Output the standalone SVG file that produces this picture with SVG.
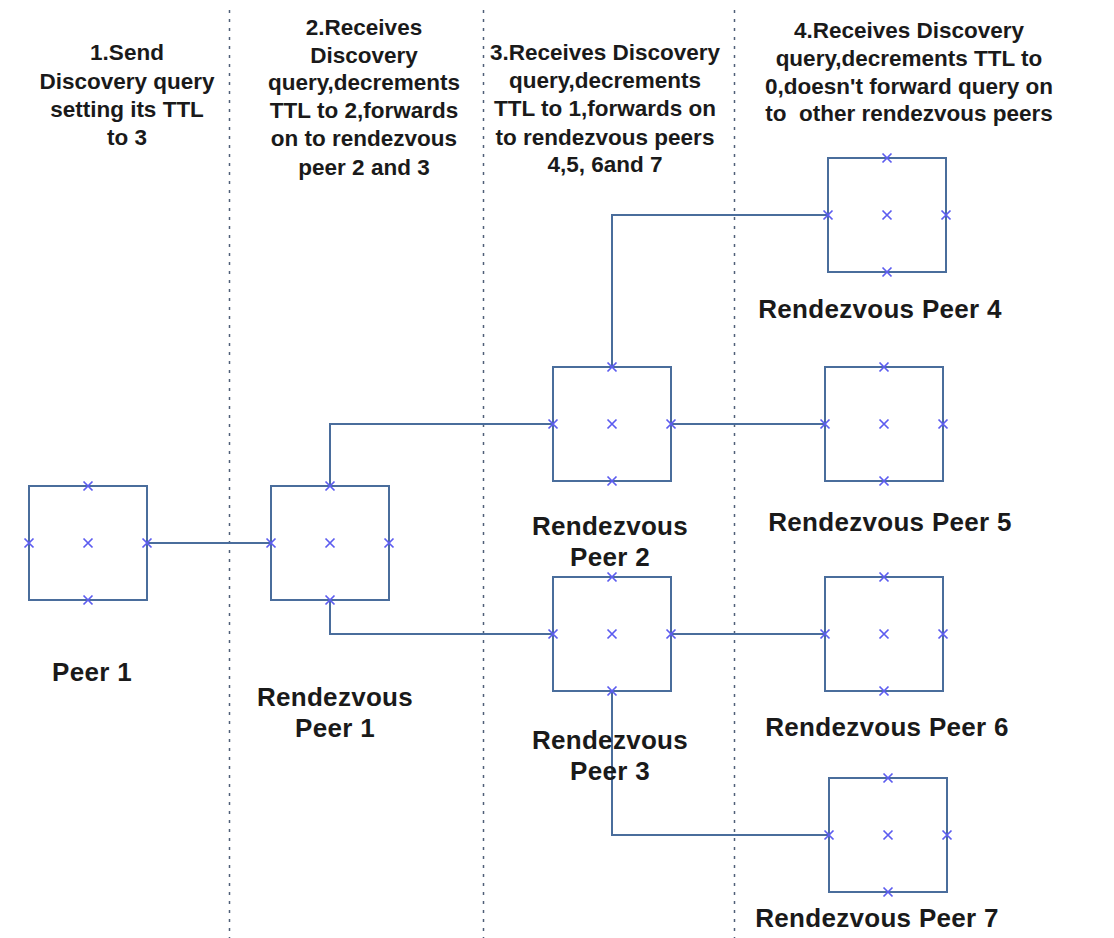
<svg xmlns="http://www.w3.org/2000/svg" width="1114" height="938" viewBox="0 0 1114 938">
  <style>
    .box { fill: none; stroke: #4a6d9c; stroke-width: 2; }
    .pin { stroke: #5c5cf0; stroke-width: 1.7; fill: none; }
    .wire { fill: none; stroke: #4a6d9c; stroke-width: 2; }
    .lane { stroke: #4f5f78; stroke-width: 1.5; stroke-dasharray: 3 6; }
    .head { font-family: "Liberation Sans", Arial, sans-serif; font-weight: bold; font-size: 22.5px; fill: #1a1a1a; text-anchor: middle; white-space: pre; }
    .label { font-family: "Liberation Sans", Arial, sans-serif; font-weight: bold; font-size: 26px; letter-spacing: 0.3px; fill: #1a1a1a; text-anchor: middle; }
  </style>
  <defs>
    <path id="x" class="pin" d="M-4.5,-4.5 L4.5,4.5 M-4.5,4.5 L4.5,-4.5"/>
    <!-- square node with connection points; origin at centre -->
    <g id="node">
      <rect class="box" x="-59" y="-57" width="118" height="114"/>
      <use href="#x" x="0" y="-57"/>
      <use href="#x" x="0" y="57"/>
      <use href="#x" x="-59" y="0"/>
      <use href="#x" x="59" y="0"/>
      <use href="#x" x="0" y="0"/>
    </g>
  </defs>
  <rect width="1114" height="938" fill="#ffffff"/>

  <!-- stage separators -->
  <g id="lanes">
    <line class="lane" x1="229.5" y1="10" x2="229.5" y2="938"/>
    <line class="lane" x1="483.5" y1="10" x2="483.5" y2="938"/>
    <line class="lane" x1="734.5" y1="10" x2="734.5" y2="938"/>
  </g>

  <!-- stage captions -->
  <g id="captions">
    <text class="head" x="127" y="60">1.Send</text>
    <text class="head" x="127" y="89">Discovery query</text>
    <text class="head" x="127" y="117">setting its TTL</text>
    <text class="head" x="127" y="145">to 3</text>

    <text class="head" x="364" y="35">2.Receives</text>
    <text class="head" x="364" y="63">Discovery</text>
    <text class="head" x="364" y="90">query,decrements</text>
    <text class="head" x="364" y="118">TTL to 2,forwards</text>
    <text class="head" x="364" y="146">on to rendezvous</text>
    <text class="head" x="364" y="175">peer 2 and 3</text>

    <text class="head" x="605" y="60">3.Receives Discovery</text>
    <text class="head" x="605" y="88">query,decrements</text>
    <text class="head" x="605" y="116">TTL to 1,forwards on</text>
    <text class="head" x="605" y="145">to rendezvous peers</text>
    <text class="head" x="605" y="172">4,5, 6and 7</text>

    <text class="head" x="909" y="38">4.Receives Discovery</text>
    <text class="head" x="909" y="66">query,decrements TTL to</text>
    <text class="head" x="909" y="94">0,doesn't forward query on</text>
    <text class="head" x="909" y="121">to  other rendezvous peers</text>
  </g>

  <!-- links between peers -->
  <g id="connectors">
    <path class="wire" d="M147,543 H270"/>
    <path class="wire" d="M330,486 V424 H553"/>
    <path class="wire" d="M330,600 V634 H553"/>
    <path class="wire" d="M612,367 V215 H828"/>
    <path class="wire" d="M671,424 H825"/>
    <path class="wire" d="M671,634 H825"/>
    <path class="wire" d="M612,691 V835 H829"/>
  </g>

  <g id="peer1">
    <use href="#node" x="88" y="543"/>
    <text class="label" x="92" y="681">Peer 1</text>
  </g>
  <g id="rdv1">
    <use href="#node" x="330" y="543"/>
    <text class="label" x="335" y="706">Rendezvous</text>
    <text class="label" x="335" y="737">Peer 1</text>
  </g>
  <g id="rdv2">
    <use href="#node" x="612" y="424"/>
    <text class="label" x="610" y="535">Rendezvous</text>
    <text class="label" x="610" y="566">Peer 2</text>
  </g>
  <g id="rdv3">
    <use href="#node" x="612" y="634"/>
    <text class="label" x="610" y="749">Rendezvous</text>
    <text class="label" x="610" y="780">Peer 3</text>
  </g>
  <g id="rdv4">
    <use href="#node" x="887" y="215"/>
    <text class="label" x="880" y="318">Rendezvous Peer 4</text>
  </g>
  <g id="rdv5">
    <use href="#node" x="884" y="424"/>
    <text class="label" x="890" y="531">Rendezvous Peer 5</text>
  </g>
  <g id="rdv6">
    <use href="#node" x="884" y="634"/>
    <text class="label" x="887" y="736">Rendezvous Peer 6</text>
  </g>
  <g id="rdv7">
    <use href="#node" x="888" y="835"/>
    <text class="label" x="877" y="927">Rendezvous Peer 7</text>
  </g>
</svg>
